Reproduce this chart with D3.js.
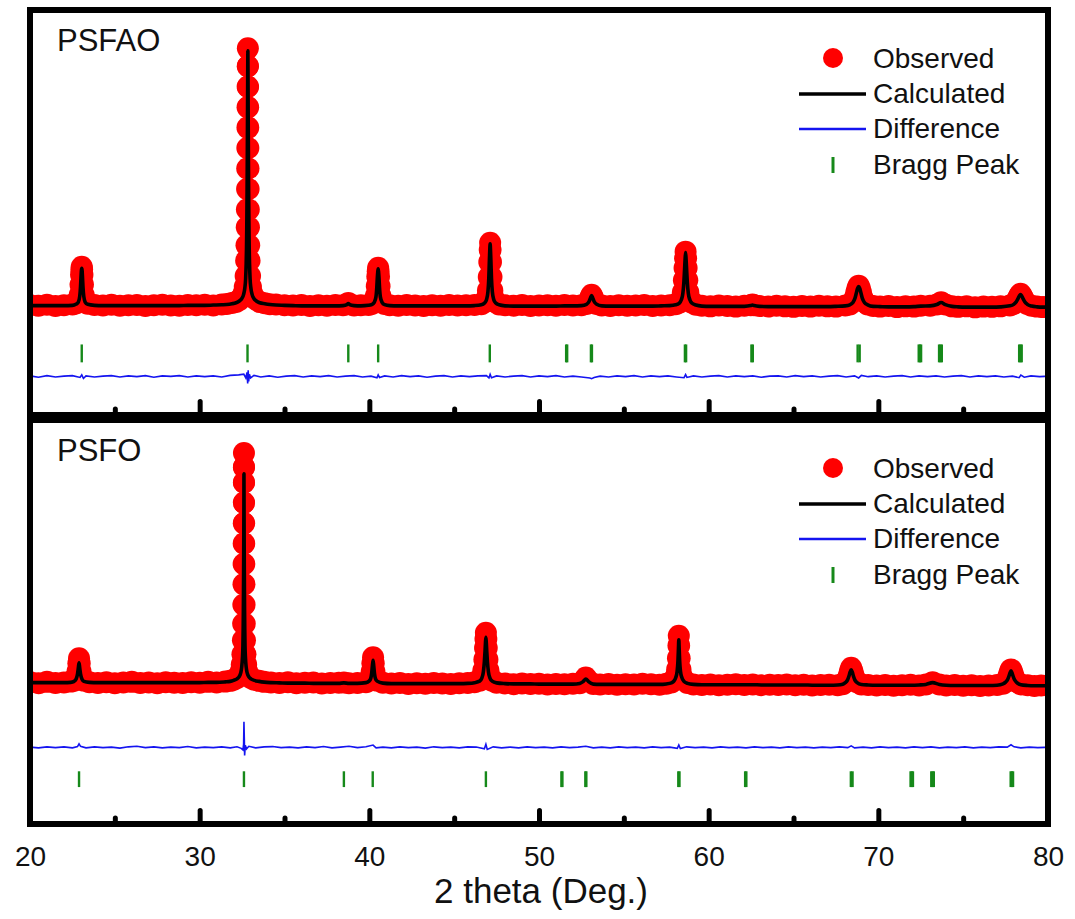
<!DOCTYPE html>
<html>
<head>
<meta charset="utf-8">
<script src="https://cdn.jsdelivr.net/npm/d3@7"></script>
<style>
  html, body { margin: 0; padding: 0; background: #fff; }
  svg { display: block; font-family: "Liberation Sans", Arial, sans-serif; }
</style>
</head>
<body>
<div id="chart"></div>
<script>
/* XRD Rietveld refinement plot: PSFAO (top) and PSFO (bottom)
   rows are [2theta, observed, calculated] in a.u. */

const xTicks = [20, 30, 40, 50, 60, 70, 80];
const majorTicks = [30, 40, 50, 60, 70];
const minorTicks = [25, 35, 45, 55, 65, 75];
const legendLabels = ['Observed', 'Calculated', 'Difference', 'Bragg Peak'];

const psfaoRows = [
  [20.0, 6, 4], [20.5, 3, 4], [21.0, 7, 4], [21.5, 2, 4], [22.0, 5, 4], [22.5, 8, 5],
  [22.7, 12, 9], [22.85, 22, 18], [22.93, 45, 40], [22.98, 85, 80], [23.01, 125, 120], [23.03, 145, 142],
  [23.05, 156, 150], [23.07, 146, 142], [23.09, 124, 120], [23.12, 86, 80], [23.17, 44, 40], [23.25, 21, 18], [23.4, 11, 9],
  [23.8, 6, 5], [24.3, 4, 4], [24.8, 7, 4], [25.3, 3, 4], [25.8, 5, 4], [26.3, 6, 4], [26.8, 2, 4], [27.3, 5, 4],
  [27.8, 7, 4], [28.3, 4, 4], [28.8, 3, 4], [29.3, 6, 5], [29.8, 5, 5], [30.3, 7, 5], [30.8, 4, 6], [31.3, 8, 7],
  [31.6, 10, 8], [31.9, 14, 11],
  [32.14, 18, 15], [32.34, 26, 22], [32.49, 36, 32], [32.59, 52, 48], [32.66, 78, 72], [32.71, 120, 110],
  [32.74, 180, 165], [32.76, 240, 225], [32.775, 310, 300], [32.785, 380, 370], [32.795, 460, 450],
  [32.803, 540, 530], [32.81, 620, 610], [32.816, 700, 690], [32.822, 780, 770], [32.828, 860, 850],
  [32.834, 940, 930], [32.84, 1010, 1000], [32.846, 940, 930], [32.852, 860, 850], [32.858, 780, 770],
  [32.864, 700, 690], [32.87, 620, 610], [32.877, 540, 530], [32.885, 460, 450], [32.895, 380, 370],
  [32.905, 310, 300], [32.92, 240, 225], [32.94, 180, 165], [32.97, 120, 110], [33.02, 78, 72],
  [33.09, 52, 48], [33.19, 36, 32], [33.34, 26, 22], [33.54, 18, 15], [33.84, 13, 11], [34.14, 9, 8],
  [34.5, 8, 6], [35.0, 5, 5], [35.5, 4, 4], [36.0, 6, 3], [36.5, 2, 3], [37.0, 5, 3], [37.5, 3, 3], [38.0, 6, 3],
  [38.45, 5, 4], [38.68, 9, 8], [38.76, 14, 12], [38.84, 9, 8], [39.1, 4, 4], [39.5, 5, 3], [39.95, 6, 5],
  [40.14, 10, 8], [40.29, 20, 17], [40.39, 42, 38], [40.44, 80, 75], [40.47, 118, 112], [40.495, 138, 135],
  [40.52, 152, 148], [40.545, 138, 135], [40.57, 118, 112], [40.6, 80, 75], [40.65, 42, 38], [40.75, 20, 17], [40.9, 10, 8],
  [41.2, 5, 4], [41.7, 3, 3], [42.2, 6, 3], [42.7, 4, 3], [43.2, 2, 3], [43.7, 5, 3], [44.2, 3, 3], [44.7, 6, 3],
  [45.2, 4, 3], [45.7, 5, 3], [46.2, 6, 4], [46.6, 9, 7],
  [46.79, 17, 14], [46.91, 32, 28], [46.99, 63, 58], [47.04, 116, 110], [47.07, 174, 168], [47.095, 221, 215],
  [47.12, 250, 246], [47.145, 221, 215], [47.17, 174, 168], [47.2, 116, 110], [47.25, 63, 58], [47.33, 32, 28],
  [47.45, 17, 14], [47.65, 8, 7],
  [48.0, 5, 3], [48.5, 3, 2], [49.0, 6, 2], [49.5, 2, 2], [50.0, 4, 2], [50.5, 5, 2], [51.0, 3, 2], [51.5, 6, 3],
  [52.0, 4, 3], [52.5, 5, 4],
  [52.8, 10, 9], [52.95, 22, 20], [53.03, 36, 33], [53.1, 46, 43], [53.17, 36, 33], [53.25, 22, 20], [53.4, 10, 9],
  [53.7, 4, 3], [54.2, 2, 2], [54.7, 5, 2], [55.2, 3, 2], [55.7, 4, 2], [56.2, 6, 2], [56.7, 2, 2], [57.2, 4, 3],
  [57.7, 5, 4], [58.05, 9, 7],
  [58.26, 15, 13], [58.39, 30, 27], [58.48, 56, 52], [58.54, 103, 97], [58.58, 151, 146], [58.61, 189, 184],
  [58.64, 215, 211], [58.67, 189, 184], [58.7, 151, 146], [58.74, 103, 97], [58.8, 56, 52], [58.89, 30, 27],
  [59.02, 15, 13], [59.25, 7, 6],
  [59.6, 3, 2], [60.1, 1, 1], [60.6, 4, 1], [61.1, 2, 1], [61.6, 0, 1], [62.1, 3, 1],
  [62.48, 5, 4], [62.58, 8, 6], [62.68, 5, 4], [63.0, 2, 1], [63.5, 0, 0], [64.0, 3, 0], [64.5, 1, 0],
  [65.0, -1, 0], [65.5, 2, 0], [66.0, 0, 0], [66.5, 3, 0], [67.0, 1, 0], [67.5, 0, 1], [68.05, 4, 3],
  [68.32, 8, 7], [68.5, 18, 16], [68.62, 35, 32], [68.7, 55, 52], [68.77, 72, 70], [68.84, 82, 78],
  [68.91, 72, 70], [68.98, 55, 52], [69.06, 35, 32], [69.18, 18, 16], [69.37, 8, 7],
  [69.7, 2, 1], [70.1, 0, 0], [70.6, 2, -1], [71.1, -2, -1], [71.6, 1, -1], [72.1, 0, 0], [72.5, 3, 2],
  [73.05, 3, 3], [73.45, 8, 8], [73.7, 17, 16], [73.95, 8, 8], [74.35, 1, 1],
  [74.7, -1, -1], [75.2, 1, -2], [75.7, -3, -2], [76.2, 0, -2], [76.7, -1, -2], [77.2, 1, -1], [77.75, 4, 3],
  [77.98, 10, 9], [78.13, 20, 19], [78.23, 33, 31], [78.31, 43, 42], [78.38, 50, 47], [78.45, 43, 42],
  [78.53, 33, 31], [78.63, 20, 19], [78.78, 10, 9], [79.03, 3, 2],
  [79.35, 0, -1], [79.7, -2, -2], [80.0, -1, -2]
];

const psfoRows = [
  [20.0, 6, 4], [20.5, 2, 4], [21.0, 7, 4], [21.5, 3, 4], [22.0, 5, 4], [22.4, 8, 5],
  [22.6, 12, 9], [22.72, 24, 18], [22.8, 48, 38], [22.85, 80, 62], [22.89, 100, 82], [22.93, 80, 62],
  [22.98, 48, 38], [23.06, 24, 18], [23.18, 12, 9],
  [23.5, 6, 5], [24.0, 3, 4], [24.5, 6, 4], [25.0, 2, 4], [25.5, 5, 4], [26.0, 7, 4], [26.5, 3, 4], [27.0, 5, 4],
  [27.5, 2, 4], [28.0, 6, 4], [28.5, 4, 4], [29.0, 3, 4], [29.5, 6, 4], [30.0, 4, 4], [30.5, 7, 5], [31.0, 5, 5],
  [31.5, 8, 7], [31.8, 11, 9],
  [32.0, 15, 13], [32.2, 22, 19], [32.33, 32, 28], [32.42, 48, 42], [32.48, 75, 66], [32.52, 115, 100],
  [32.55, 170, 150], [32.565, 235, 215], [32.575, 310, 285], [32.583, 390, 360], [32.59, 470, 435],
  [32.596, 550, 510], [32.601, 630, 585], [32.605, 710, 660], [32.608, 790, 730], [32.609, 850, 780],
  [32.61, 905, 824], [32.612, 850, 780], [32.614, 790, 730], [32.617, 710, 660], [32.621, 630, 585],
  [32.626, 550, 510], [32.632, 470, 435], [32.639, 390, 360], [32.647, 310, 285], [32.657, 235, 215],
  [32.672, 170, 150], [32.7, 115, 100], [32.74, 75, 66], [32.8, 48, 42], [32.89, 32, 28], [33.02, 22, 19],
  [33.22, 15, 13], [33.5, 11, 9], [33.8, 7, 6],
  [34.2, 5, 4], [34.7, 3, 3], [35.2, 6, 2], [35.7, 2, 2], [36.2, 4, 2], [36.7, 5, 1], [37.2, 1, 1], [37.7, 3, 1],
  [38.2, 4, 1], [38.5, 5, 3], [38.8, 2, 1], [39.3, 3, 1], [39.8, 6, 4],
  [39.98, 12, 10], [40.08, 24, 20], [40.14, 48, 42], [40.18, 80, 70], [40.22, 104, 92], [40.26, 80, 70],
  [40.3, 48, 42], [40.36, 24, 20], [40.46, 12, 10],
  [40.8, 4, 2], [41.3, 1, 0], [41.8, 3, 0], [42.3, -1, 0], [42.8, 2, 0], [43.3, 0, 0], [43.8, 3, 0], [44.3, 1, 0],
  [44.8, -1, 0], [45.3, 2, 0], [45.8, 3, 1], [46.2, 6, 4],
  [46.5, 12, 10], [46.63, 26, 22], [46.72, 52, 46], [46.78, 95, 86], [46.82, 140, 128], [46.845, 175, 160],
  [46.87, 200, 182], [46.895, 175, 160], [46.92, 140, 128], [46.96, 95, 86], [47.02, 52, 46], [47.11, 26, 22],
  [47.24, 12, 10], [47.5, 4, 3],
  [48.0, 1, 0], [48.5, -2, -1], [49.0, 1, -1], [49.5, -1, -1], [50.0, 0, -2], [50.5, -3, -2], [51.0, -1, -2],
  [51.5, -2, -2], [52.0, 0, -2], [52.4, 2, 1],
  [52.6, 10, 8], [52.76, 24, 18], [52.92, 10, 8], [53.2, -1, -2],
  [53.6, -3, -3], [54.1, -1, -3], [54.6, -4, -3], [55.1, -2, -3], [55.6, -3, -3], [56.1, 0, -3], [56.6, -2, -3],
  [57.1, -4, -3], [57.5, 0, -1], [57.8, 5, 3],
  [57.95, 14, 10], [58.06, 28, 24], [58.14, 55, 48], [58.19, 100, 90], [58.22, 150, 140], [58.24, 188, 172],
  [58.26, 150, 140], [58.29, 100, 90], [58.34, 55, 48], [58.42, 28, 24], [58.53, 14, 10], [58.75, 3, 1],
  [59.1, -3, -3], [59.6, -5, -4], [60.1, -3, -4], [60.6, -6, -4], [61.1, -4, -4], [61.6, -2, -4], [62.1, -5, -4],
  [62.6, -3, -4], [63.1, -6, -5], [63.6, -4, -5], [64.1, -5, -5], [64.6, -3, -5], [65.1, -6, -5], [65.6, -4, -5],
  [66.1, -7, -6], [66.6, -5, -6], [67.1, -4, -6], [67.6, -6, -5], [67.9, -2, -2],
  [68.05, 6, 4], [68.18, 18, 14], [68.27, 34, 30], [68.33, 50, 44], [68.4, 62, 54], [68.47, 50, 44],
  [68.53, 34, 30], [68.62, 18, 14], [68.75, 6, 4], [69.0, -3, -3],
  [69.4, -5, -5], [69.9, -7, -6], [70.4, -5, -6], [70.9, -8, -6], [71.4, -6, -6], [71.9, -4, -6], [72.4, -7, -5],
  [72.8, -3, -3], [73.2, 6, 4], [73.6, -3, -3],
  [74.0, -7, -6], [74.5, -5, -7], [75.0, -8, -7], [75.5, -6, -7], [76.0, -9, -7], [76.5, -7, -7], [77.0, -5, -6],
  [77.35, 0, -1],
  [77.5, 8, 6], [77.62, 20, 16], [77.7, 36, 30], [77.76, 48, 42], [77.82, 56, 50], [77.88, 48, 42],
  [77.94, 36, 30], [78.02, 20, 16], [78.14, 8, 6], [78.4, -3, -4],
  [78.8, -6, -7], [79.2, -9, -8], [79.6, -7, -8], [80.0, -8, -8]
];

const psfaoDiff = [
  [20.0, 2], [20.5, -3], [21.0, 3], [21.5, -2], [22.0, 1], [22.5, 3], [22.95, -4], [23.05, 6], [23.15, -8],
  [23.3, 2], [23.8, -2], [24.3, 1], [24.8, 3], [25.3, -2], [25.8, 2], [26.3, -1], [26.8, 3], [27.3, -3],
  [27.8, 2], [28.3, 0], [28.8, 3], [29.3, -2], [29.8, 2], [30.3, -1], [30.8, 2], [31.3, -2], [31.8, 4],
  [32.3, 6], [32.6, 9], [32.72, -6], [32.79, 16], [32.83, -28], [32.86, 24], [32.89, -20], [32.93, 8],
  [33.0, -6], [33.2, 4], [33.6, -2], [34.1, 2], [34.6, -3], [35.1, 1], [35.6, 3], [36.1, -2], [36.6, 2],
  [37.1, -1], [37.6, 3], [38.1, -2], [38.6, 1], [39.1, 3], [39.6, -2], [40.1, 1], [40.45, -5], [40.52, 6],
  [40.6, -4], [40.9, 2], [41.4, -2], [41.9, 3], [42.4, -1], [42.9, 2], [43.4, -3], [43.9, 1], [44.4, 3],
  [44.9, -2], [45.4, 2], [45.9, -1], [46.4, 2], [46.9, 3], [47.05, -6], [47.12, 8], [47.2, -5], [47.5, 2],
  [48.0, -2], [48.5, 1], [49.0, 3], [49.5, -2], [50.0, 2], [50.5, -1], [51.0, 3], [51.5, -2], [52.0, 1],
  [52.5, -2], [53.0, -6], [53.1, -9], [53.25, -4], [53.6, 1], [54.1, -2], [54.6, 2], [55.1, -1], [55.6, 3],
  [56.1, -2], [56.6, 2], [57.1, -1], [57.6, 2], [58.1, -2], [58.55, -5], [58.64, 7], [58.72, -4], [59.1, 2],
  [59.6, -2], [60.1, 1], [60.6, 3], [61.1, -2], [61.6, 2], [62.1, -1], [62.6, 2], [63.1, -3], [63.6, 1],
  [64.1, 2], [64.6, -2], [65.1, 3], [65.6, -1], [66.1, 2], [66.6, -2], [67.1, 1], [67.6, 3], [68.1, -2],
  [68.6, 2], [68.84, -6], [69.0, 4], [69.4, -1], [69.9, 2], [70.4, -2], [70.9, 1], [71.4, 3], [71.9, -2],
  [72.4, 2], [72.9, -1], [73.4, 2], [73.9, -2], [74.4, 1], [74.9, 3], [75.4, -2], [75.9, 2], [76.4, -1],
  [76.9, 2], [77.4, -2], [77.9, 1], [78.3, -5], [78.4, 5], [78.6, -3], [79.0, 2], [79.5, -1], [80.0, 1]
];

const psfoDiff = [
  [20.0, 1], [20.5, -2], [21.0, 2], [21.5, -1], [22.0, 2], [22.5, -2], [22.8, 3], [22.89, 14], [22.98, 4],
  [23.3, -2], [23.8, 2], [24.3, -1], [24.8, 1], [25.3, -3], [25.8, 2], [26.3, 4], [26.8, -1], [27.3, 2],
  [27.8, -2], [28.3, 1], [28.8, -1], [29.3, 3], [29.8, -2], [30.3, 1], [30.8, -1], [31.3, 2], [31.8, -2],
  [32.2, 2], [32.45, -4], [32.55, -10], [32.59, 12], [32.61, 100], [32.63, 40], [32.65, -32], [32.69, 8],
  [32.76, -6], [32.9, 4], [33.3, -2], [33.8, 2], [34.3, 3], [34.8, -1], [35.3, 1], [35.8, -2], [36.3, 2],
  [36.8, -1], [37.3, 3], [37.8, -2], [38.3, 1], [38.8, 4], [39.3, -1], [39.8, 2], [40.22, 9], [40.4, -2],
  [40.8, 1], [41.3, -2], [41.8, 2], [42.3, -1], [42.8, 1], [43.3, -3], [43.8, 2], [44.3, -1], [44.8, 1],
  [45.3, -2], [45.8, 2], [46.3, 1], [46.78, -6], [46.87, 12], [46.95, -8], [47.3, 2], [47.8, -2], [48.3, 1],
  [48.8, -2], [49.3, 2], [49.8, -1], [50.3, 1], [50.8, -2], [51.3, 2], [51.8, -1], [52.3, 1], [52.76, 4],
  [53.2, -2], [53.7, 1], [54.2, -2], [54.7, 2], [55.2, -1], [55.7, 1], [56.2, -2], [56.7, 2], [57.2, -1],
  [57.7, 1], [58.15, -4], [58.24, 9], [58.33, -5], [58.7, 2], [59.2, -1], [59.7, 1], [60.2, -2], [60.7, 2],
  [61.2, -1], [61.7, 1], [62.2, -2], [62.7, 2], [63.2, -1], [63.7, 1], [64.2, -2], [64.7, 2], [65.2, -1],
  [65.7, 1], [66.2, -2], [66.7, 1], [67.2, -1], [67.7, 2], [68.2, -1], [68.4, 6], [68.6, -2], [69.1, 1],
  [69.6, -2], [70.1, 2], [70.6, -1], [71.1, 1], [71.6, -2], [72.1, 2], [72.6, -1], [73.1, 2], [73.6, -2],
  [74.1, 1], [74.6, -1], [75.1, 2], [75.6, -2], [76.1, 1], [76.6, -1], [77.1, 2], [77.6, 1], [77.82, 10],
  [78.0, 2], [78.4, -2], [78.9, 1], [79.4, -1], [80.0, 0]
];

const psfaoBragg = [23.05, 32.82, 38.76, 40.52, 47.1, 51.6, 51.66, 53.06, 53.12, 58.6, 58.67, 62.52, 62.6,
  68.78, 68.9, 72.38, 72.45, 72.52, 73.58, 73.66, 73.74, 78.3, 78.38, 78.45];
const psfoBragg = [22.89, 32.61, 38.5, 40.2, 46.87, 51.32, 51.38, 52.73, 52.79, 58.21, 58.28, 62.15, 62.22,
  68.38, 68.48, 71.9, 71.97, 72.04, 73.12, 73.2, 73.27, 77.8, 77.87, 77.94];

const W = 1075, H = 919;
const FONT = '"Liberation Sans", Arial, sans-serif';
const RED = '#ff0000', BLUE = '#1414f0', GREEN = '#16891a';

const panels = [
  { name: 'PSFAO', rows: psfaoRows, diff: psfaoDiff, bragg: psfaoBragg,
    top: 10, bottom: 415, domain: [-420, 1160], diffOffset: -273, braggRange: [-148, -218] },
  { name: 'PSFO', rows: psfoRows, diff: psfoDiff, bragg: psfoBragg,
    top: 420, bottom: 824, domain: [-547, 1035], diffOffset: -250, braggRange: [-344, -406] }
];

const x = d3.scaleLinear().domain([20, 80]).range([30, 1048]);

const svg = d3.select('#chart').append('svg')
  .attr('width', W).attr('height', H)
  .attr('viewBox', [0, 0, W, H]);

panels.forEach((p, i) => {
  const y = d3.scaleLinear().domain(p.domain).range([p.bottom - 1, p.top]);
  const clipId = 'clip' + i;

  svg.append('clipPath').attr('id', clipId)
    .append('rect')
    .attr('x', 33).attr('y', p.top + 3)
    .attr('width', 1012).attr('height', p.bottom - p.top - 6);

  const g = svg.append('g').attr('clip-path', `url(#${clipId})`);

  // observed
  g.append('g').selectAll('circle')
    .data(p.rows)
    .join('circle')
    .attr('cx', d => x(d[0]))
    .attr('cy', d => y(d[1]))
    .attr('r', 11)
    .attr('fill', RED);

  // calculated
  g.append('path')
    .datum(p.rows)
    .attr('fill', 'none')
    .attr('stroke', '#000')
    .attr('stroke-width', 3.6)
    .attr('stroke-linejoin', 'round')
    .attr('d', d3.line().x(d => x(d[0])).y(d => y(d[2])).curve(d3.curveMonotoneX));

  // difference
  g.append('path')
    .datum(p.diff)
    .attr('fill', 'none')
    .attr('stroke', BLUE)
    .attr('stroke-width', 1.6)
    .attr('d', d3.line().x(d => x(d[0])).y(d => y(d[1] + p.diffOffset)));

  // bragg positions
  g.append('g').selectAll('line')
    .data(p.bragg)
    .join('line')
    .attr('x1', d => x(d)).attr('x2', d => x(d))
    .attr('y1', y(p.braggRange[0])).attr('y2', y(p.braggRange[1]))
    .attr('stroke', GREEN)
    .attr('stroke-width', 2.4);

  // ticks along panel bottom
  const major = svg.append('g')
    .attr('transform', `translate(0,${p.bottom})`)
    .call(d3.axisBottom(x).tickValues(majorTicks).tickSize(-13.5).tickFormat(''));
  const minor = svg.append('g')
    .attr('transform', `translate(0,${p.bottom})`)
    .call(d3.axisBottom(x).tickValues(minorTicks).tickSize(-6).tickFormat(''));
  [major, minor].forEach(a => {
    a.select('.domain').remove();
    a.selectAll('line').attr('stroke', '#000').attr('stroke-width', 5).attr('stroke-linecap', 'round');
  });

  // frame
  svg.append('rect')
    .attr('x', 30).attr('y', p.top)
    .attr('width', 1018).attr('height', p.bottom - p.top)
    .attr('fill', 'none')
    .attr('stroke', '#000')
    .attr('stroke-width', 6);

  // panel label
  svg.append('text')
    .attr('x', 57).attr('y', p.top + 41)
    .attr('font-family', FONT).attr('font-size', 31)
    .attr('fill', '#111')
    .text(p.name);

  // legend
  const lg = svg.append('g').attr('transform', `translate(0,${p.top})`);
  lg.append('circle').attr('cx', 833).attr('cy', 48).attr('r', 10).attr('fill', RED);
  lg.append('line').attr('x1', 799).attr('x2', 866).attr('y1', 84).attr('y2', 84)
    .attr('stroke', '#000').attr('stroke-width', 3.5);
  lg.append('line').attr('x1', 799).attr('x2', 866).attr('y1', 119).attr('y2', 119)
    .attr('stroke', BLUE).attr('stroke-width', 2.6);
  lg.append('line').attr('x1', 833).attr('x2', 833).attr('y1', 147).attr('y2', 163)
    .attr('stroke', GREEN).attr('stroke-width', 3);
  lg.selectAll('text.leg')
    .data(legendLabels)
    .join('text')
    .attr('class', 'leg')
    .attr('x', 873)
    .attr('y', (d, k) => 58 + k * 35.2)
    .attr('font-family', FONT).attr('font-size', 28)
    .attr('fill', '#111')
    .text(d => d);
});

// bottom axis labels
const xAxis = svg.append('g')
  .attr('transform', 'translate(0,824)')
  .call(d3.axisBottom(x).tickValues(xTicks).tickSize(0).tickPadding(22).tickFormat(d3.format('d')));
xAxis.select('.domain').remove();
xAxis.selectAll('text')
  .attr('font-family', FONT).attr('font-size', 28).attr('fill', '#111');

svg.append('text')
  .attr('x', 541).attr('y', 903)
  .attr('text-anchor', 'middle')
  .attr('font-family', FONT).attr('font-size', 35)
  .attr('fill', '#111')
  .text('2 theta (Deg.)');
</script>
</body>
</html>
